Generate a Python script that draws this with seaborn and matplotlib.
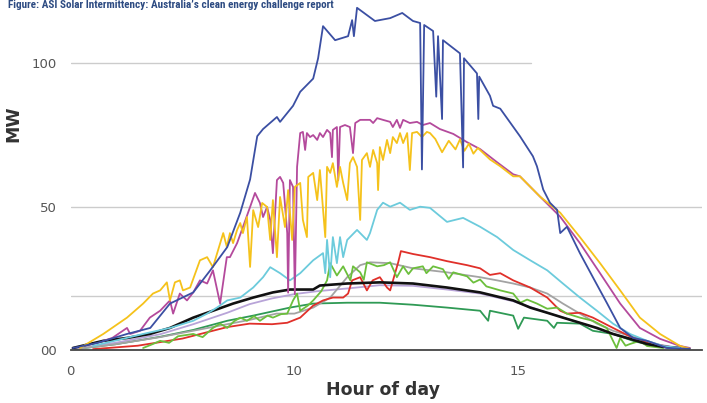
import matplotlib
matplotlib.use("Agg")
import matplotlib.pyplot as plt
from matplotlib import font_manager
import seaborn as sns
import pandas as pd

# ---------------- data (x in axis tick slots, y in MW) ----------------
blue_x = [0.05, 0.6, 1.26, 1.78, 2.22, 2.74, 3.12, 3.50, 3.79, 4.01, 4.17, 4.30, 4.61, 4.68, 4.97, 5.13, 5.42, 5.53,
          5.64, 5.91, 6.20, 6.29, 6.33, 6.40, 6.80, 7.14, 7.41, 7.65, 7.81, 7.85, 7.90, 8.10, 8.17, 8.21, 8.30, 8.32,
          8.70, 8.77, 8.79, 9.08, 9.11, 9.13, 9.37, 9.44, 9.60, 10.04, 10.33, 10.42, 10.56, 10.71, 10.87, 10.94,
          11.09, 11.38, 11.67, 11.99, 12.28, 12.57, 12.88, 13.33, 13.84]
blue_y = [0.7, 2.5, 5.6, 7.7, 16.2, 20.1, 27.8, 35.9, 47.9, 59.5, 74.6, 77.1, 81.3, 79.6, 85.2, 90.1, 94.7, 101.8,
          113.0, 108.1, 109.5, 115.1, 109.5, 119.4, 114.8, 115.8, 117.6, 114.8, 114.1, 63.0, 113.4, 111.3, 88.4, 109.5,
          80.6, 108.1, 103.5, 63.7, 101.8, 96.5, 80.6, 95.4, 88.7, 85.2, 84.2, 74.6, 67.6, 64.1, 56.0, 51.4, 48.9,
          40.8, 43.0, 33.8, 25.4, 16.2, 7.7, 4.2, 3.2, 0.7, 0.4]

magenta_x = [0.73, 0.93, 1.26, 1.33, 1.55, 1.77, 2.00, 2.22, 2.29, 2.44, 2.60, 2.74, 2.89, 3.05, 3.18, 3.34, 3.49,
             3.56, 3.72, 3.85, 4.01, 4.12, 4.23, 4.30, 4.39, 4.46, 4.52, 4.61, 4.68, 4.75, 4.84, 4.86, 4.90, 4.97,
             5.01, 5.06, 5.13, 5.19, 5.24, 5.28, 5.35, 5.42, 5.51, 5.57, 5.64, 5.73, 5.80, 5.84, 5.86, 5.95, 5.98,
             6.02, 6.13, 6.24, 6.31, 6.36, 6.47, 6.69, 6.76, 6.85, 6.98, 7.14, 7.20, 7.29, 7.36, 7.43, 7.58, 7.74,
             7.87, 8.03, 8.25, 8.55, 8.86, 9.15, 9.53, 9.89, 10.04, 10.49, 10.94, 11.38, 11.83, 12.28, 12.72, 13.17,
             13.62, 13.84]
magenta_y = [3.2, 4.2, 7.7, 5.6, 6.7, 11.3, 13.7, 17.3, 12.7, 19.7, 17.3, 20.1, 24.3, 23.2, 27.8, 16.2, 32.4,
             32.4, 37.3, 42.9, 49.9, 54.8, 51.3, 46.4, 49.9, 45.4, 33.8, 59.3, 60.4, 58.3, 40.8, 20.0, 59.3, 56.9,
             19.5, 63.9, 75.7, 76.1, 69.8, 75.7, 74.3, 75.0, 73.3, 75.7, 74.3, 76.8, 75.7, 67.3, 76.8, 77.8, 59.3,
             77.8, 78.5, 77.8, 68.7, 79.2, 80.3, 80.3, 79.2, 80.9, 80.3, 79.6, 77.8, 80.3, 77.5, 80.3, 79.2, 79.6,
             78.5, 79.2, 77.1, 75.4, 72.5, 70.1, 65.5, 61.3, 60.6, 53.5, 46.5, 37.3, 26.8, 16.2, 7.7, 3.9,
             1.4, 0.7]

yellow_x = [0.21, 0.73, 1.26, 1.62, 1.84, 2.00, 2.15, 2.22, 2.33, 2.44, 2.51, 2.67, 2.89, 3.05, 3.18, 3.41, 3.49,
            3.56, 3.63, 3.72, 3.79, 3.85, 3.94, 4.01, 4.08, 4.19, 4.28, 4.39, 4.46, 4.52, 4.61, 4.68, 4.79, 4.86,
            4.95, 5.01, 5.13, 5.19, 5.28, 5.31, 5.42, 5.51, 5.57, 5.69, 5.73, 5.80, 5.86, 5.95, 6.02, 6.09, 6.18,
            6.24, 6.31, 6.40, 6.47, 6.51, 6.62, 6.69, 6.76, 6.85, 6.87, 6.91, 6.98, 7.07, 7.14, 7.20, 7.29, 7.36,
            7.43, 7.52, 7.58, 7.63, 7.74, 7.85, 7.96, 8.03, 8.15, 8.30, 8.45, 8.60, 8.70, 8.80, 8.90, 9.00, 9.10,
            9.37, 9.60, 9.89, 10.04, 10.49, 10.94, 11.38, 11.83, 12.28, 12.72, 13.17, 13.62, 13.84]
yellow_y = [0.7, 5.6, 11.3, 16.2, 19.7, 20.8, 23.6, 17.3, 23.6, 24.3, 20.8, 21.8, 31.3, 32.4, 28.9, 40.8, 36.0,
            40.8, 37.3, 41.9, 44.3, 40.8, 46.4, 29.0, 48.8, 42.9, 51.3, 49.9, 38.4, 52.3, 32.4, 53.4, 42.9, 55.8,
            38.4, 56.9, 58.3, 45.4, 39.4, 60.4, 61.8, 52.3, 62.8, 39.4, 63.9, 61.8, 65.2, 56.9, 63.9, 58.3, 52.3,
            65.2, 67.3, 63.9, 45.4, 66.3, 68.7, 63.9, 69.8, 65.2, 55.8, 70.8, 66.3, 73.3, 68.7, 74.3, 72.2, 75.7,
            72.2, 75.7, 62.8, 75.7, 76.1, 74.3, 76.1, 75.7, 73.6, 69.0, 73.0, 70.0, 73.5, 69.5, 72.0, 68.5, 70.5,
            66.5, 64.1, 60.6, 60.6, 53.5, 47.9, 39.4, 30.3, 20.8, 11.3, 5.6, 1.4, 0.4]

cyan_x = [0.50, 1.62, 2.22, 2.74, 3.05, 3.27, 3.50, 3.79, 4.08, 4.30, 4.46, 4.68, 4.90, 5.13, 5.42, 5.64, 5.69,
          5.73, 5.80, 5.86, 5.95, 6.02, 6.09, 6.18, 6.40, 6.62, 6.69, 6.85, 6.98, 7.14, 7.36, 7.58, 7.81, 8.03,
          8.41, 8.77, 9.15, 9.53, 9.89, 10.27, 10.65, 11.00, 11.38, 11.76, 12.12, 12.50, 12.88, 13.24, 13.62]
cyan_y = [1.4, 5.6, 7.7, 10.2, 12.7, 14.8, 17.3, 18.3, 21.8, 25.4, 28.9, 26.8, 24.3, 26.8, 31.3, 33.8, 26.8,
          38.4, 25.4, 39.4, 30.3, 39.4, 32.4, 38.4, 41.9, 38.4, 40.8, 48.9, 51.4, 50.0, 51.4, 48.9, 50.0, 49.6,
          44.7, 46.1, 43.0, 39.4, 34.9, 31.3, 27.8, 23.2, 18.3, 13.7, 9.2, 5.6, 3.2, 1.4, 0.7]

red_x = [0.5, 1.5, 2.5, 3.5, 4.0, 4.5, 4.84, 5.13, 5.42, 5.64, 5.86, 6.09, 6.20, 6.29, 6.47, 6.62, 6.75, 6.91,
         7.07, 7.14, 7.25, 7.32, 7.38, 7.65, 8.03, 8.41, 8.86, 9.15, 9.37, 9.60, 9.89, 10.27, 10.65, 10.94, 11.09,
         11.38, 11.67, 12.12, 12.57, 13.02, 13.60]
red_y = [0.3, 1.5, 4.0, 8.0, 9.2, 9.0, 9.5, 11.3, 15.5, 17.3, 18.3, 18.3, 19.7, 24.3, 25.4, 20.8, 24.3, 25.4,
         21.8, 20.8, 26.8, 30.6, 34.5, 33.5, 32.4, 31.0, 29.6, 28.5, 26.2, 26.8, 24.3, 21.8, 18.3, 13.7, 12.7,
         13.0, 11.3, 7.7, 4.2, 2.1, 0.5]

green_x = [1.62, 1.84, 2.00, 2.20, 2.40, 2.74, 2.95, 3.18, 3.34, 3.50, 3.65, 3.79, 3.94, 4.10, 4.23, 4.40, 4.52,
           4.70, 4.84, 4.97, 5.06, 5.13, 5.30, 5.42, 5.60, 5.73, 5.80, 5.95, 6.09, 6.25, 6.31, 6.47, 6.55, 6.62,
           6.85, 7.00, 7.14, 7.29, 7.43, 7.55, 7.65, 7.87, 7.95, 8.10, 8.32, 8.45, 8.55, 8.86, 9.00, 9.15, 9.29,
           9.60, 9.89, 10.05, 10.20, 10.42, 10.65, 10.87, 11.09, 11.38, 11.67, 11.98, 12.12, 12.20, 12.28, 12.40,
           12.50, 12.72, 12.88, 13.24]
green_y = [0.7, 2.1, 3.2, 2.5, 4.8, 5.6, 4.5, 7.7, 9.2, 7.7, 10.0, 11.3, 10.2, 11.8, 10.2, 12.0, 11.3,
           12.5, 12.7, 17.3, 19.7, 13.7, 15.5, 17.3, 20.5, 24.3, 30.3, 26.0, 29.2, 24.3, 29.2, 27.1, 24.5, 30.6,
           29.2, 29.6, 30.6, 25.4, 29.2, 26.5, 28.5, 29.2, 26.8, 29.2, 28.2, 24.8, 27.1, 25.7, 23.5, 24.6, 22.2,
           20.8, 19.7, 16.5, 17.6, 16.2, 14.4, 14.8, 12.7, 11.3, 10.2, 7.7, 3.2, 0.7, 4.2, 1.5,
           2.1, 3.2, 1.4, 0.7]

dkgreen_x = [0.1, 1.0, 2.0, 2.74, 3.5, 4.08, 4.9, 5.42, 6.18, 6.91, 7.65, 8.41, 9.15, 9.33, 9.37, 9.89, 10.0,
             10.13, 10.65, 10.8, 10.87, 11.38, 11.67, 12.12, 12.57, 13.02, 13.46]
dkgreen_y = [0.3, 2.0, 4.6, 7.0, 10.2, 12.0, 14.8, 16.2, 16.5, 16.5, 15.8, 14.8, 13.7, 10.2, 13.7, 12.0, 7.4,
             11.3, 10.2, 7.7, 9.5, 9.2, 6.7, 5.6, 3.2, 1.4, 0.7]

gray_x = [0.2, 1.0, 2.0, 3.0, 4.0, 4.6, 5.0, 5.42, 5.80, 6.18, 6.47, 6.69, 7.14, 7.65, 8.41, 9.15, 9.53, 9.89,
          10.27, 10.65, 11.0, 11.38, 11.76, 12.12, 12.72, 13.24, 13.62]
gray_y = [0.5, 2.0, 4.5, 7.5, 10.5, 12.7, 12.7, 14.8, 18.3, 25.4, 29.6, 30.6, 30.3, 28.5, 27.1, 25.4, 24.3, 23.2,
          21.8, 19.7, 16.2, 12.7, 9.2, 6.7, 3.9, 1.4, 0.5]

lavender_x = [0.1, 1.0, 2.0, 2.74, 3.5, 4.0, 4.5, 5.0, 5.5, 6.2, 6.9, 7.65, 8.41, 9.15, 9.89, 10.65, 11.38, 12.12,
              12.88, 13.62]
lavender_y = [0.5, 2.5, 5.5, 9.0, 13.0, 16.0, 18.0, 19.5, 20.5, 21.5, 22.6, 22.4, 21.1, 19.7, 17.0, 13.0, 9.5, 5.6,
              2.5, 0.7]

black_x = [0.05, 0.73, 1.26, 1.77, 2.22, 2.74, 3.18, 3.63, 4.08, 4.52, 4.90, 5.42, 5.57, 6.18, 6.91, 7.65, 8.41,
           9.15, 9.89, 10.27, 10.65, 11.00, 11.38, 11.76, 12.12, 12.50, 12.88, 13.24, 13.62]
black_y = [0.7, 3.2, 4.2, 5.6, 7.7, 11.3, 13.7, 16.2, 18.3, 20.1, 21.1, 21.1, 22.5, 23.2, 23.6, 23.2, 21.8,
           20.1, 17.3, 14.8, 13.0, 11.3, 9.5, 7.7, 5.6, 3.9, 2.1, 1.1, 0.7]

x_ticks = list(range(15))
x_tick_labels = ["0", "", "", "", "", "10", "", "", "", "", "15", "", "", "", ""]
y_ticks = [0, 50, 100]
y_tick_labels = ["00", "50", "100"]
grid_levels = [19, 50, 100]
title_text = "Figure: ASI Solar Intermittency: Australia\u2019s clean energy challenge report"

series = [
    ("dkgreen", dkgreen_x, dkgreen_y, "#2f9a55"),
    ("lavender", lavender_x, lavender_y, "#b8a4d8"),
    ("gray", gray_x, gray_y, "#a3a3a3"),
    ("red", red_x, red_y, "#e0302a"),
    ("green", green_x, green_y, "#6cbf3c"),
    ("black", black_x, black_y, "#111111"),
    ("cyan", cyan_x, cyan_y, "#6ccbdc"),
    ("magenta", magenta_x, magenta_y, "#b44a9c"),
    ("yellow", yellow_x, yellow_y, "#f5c21b"),
    ("blue", blue_x, blue_y, "#3b4fa3"),
]

frames = []
for name, xs, ys, _ in series:
    frames.append(pd.DataFrame({"slot": xs, "MW": ys, "series": name}))
df = pd.concat(frames, ignore_index=True)
palette = {name: c for name, _, _, c in series}

sns.set_theme(style="white")
fig = plt.figure(figsize=(7.07, 4.03), dpi=100)
ax = fig.add_axes([0.0999, 0.1315, 0.8925, 0.8605])

# gridlines
for lvl in grid_levels:
    xmax = 0.73 if lvl == 100 else 1.0
    ax.axhline(lvl, xmin=0, xmax=xmax, color="#cccccc", lw=1.0, zorder=0)

sns.lineplot(data=df, x="slot", y="MW", hue="series", hue_order=[s[0] for s in series],
             palette=palette, estimator=None, sort=False, legend=False, linewidth=1.3, ax=ax)
for line in ax.get_lines():
    if line.get_color() == "#111111":
        line.set_linewidth(1.9)

ax.set_xlim(0, 14.1)
ax.set_ylim(0, 121)
ax.set_xticks(x_ticks)
ax.set_xticklabels(x_tick_labels, fontsize=9.5, color="#555555")
ax.set_yticks(y_ticks)
ax.set_yticklabels(y_tick_labels, fontsize=9.5, color="#555555")
ax.tick_params(axis="x", direction="inout", length=9, width=1.0, color="#444444", pad=6)
ax.tick_params(axis="y", length=0, pad=10)

for s in ["top", "right", "left"]:
    ax.spines[s].set_visible(False)
ax.spines["bottom"].set_color("#444444")
ax.spines["bottom"].set_linewidth(1.3)

ax.set_xlabel("Hour of day", fontsize=12.5, fontweight="bold", color="#333333")
ax.xaxis.set_label_coords(0.495, -0.09)
ax.set_ylabel("MW", fontsize=12.5, fontweight="bold", color="#333333")
ax.yaxis.set_label_coords(-0.076, 0.652)

# title: prefer a narrow face, then fit to the reference width (~325 px)
narrow = None
for fam in ["Liberation Sans Narrow", "Roboto Condensed", "DejaVu Sans Condensed", "Open Sans Condensed",
            "Arial Narrow", "Roboto"]:
    try:
        font_manager.findfont(font_manager.FontProperties(family=fam), fallback_to_default=False)
        narrow = fam
        break
    except Exception:
        continue
fams = ([narrow] if narrow else []) + ["DejaVu Sans"]
title = fig.text(0.011, 1 - 8.0 / 403, title_text, fontsize=11, fontweight="bold", color="#2d4b82",
                 family=fams, va="baseline", ha="left")
fig.canvas.draw()
w = title.get_window_extent(fig.canvas.get_renderer()).width
if w > 0:
    title.set_fontsize(11 * 325.0 / w)

fig.savefig("out.png", dpi=100)
